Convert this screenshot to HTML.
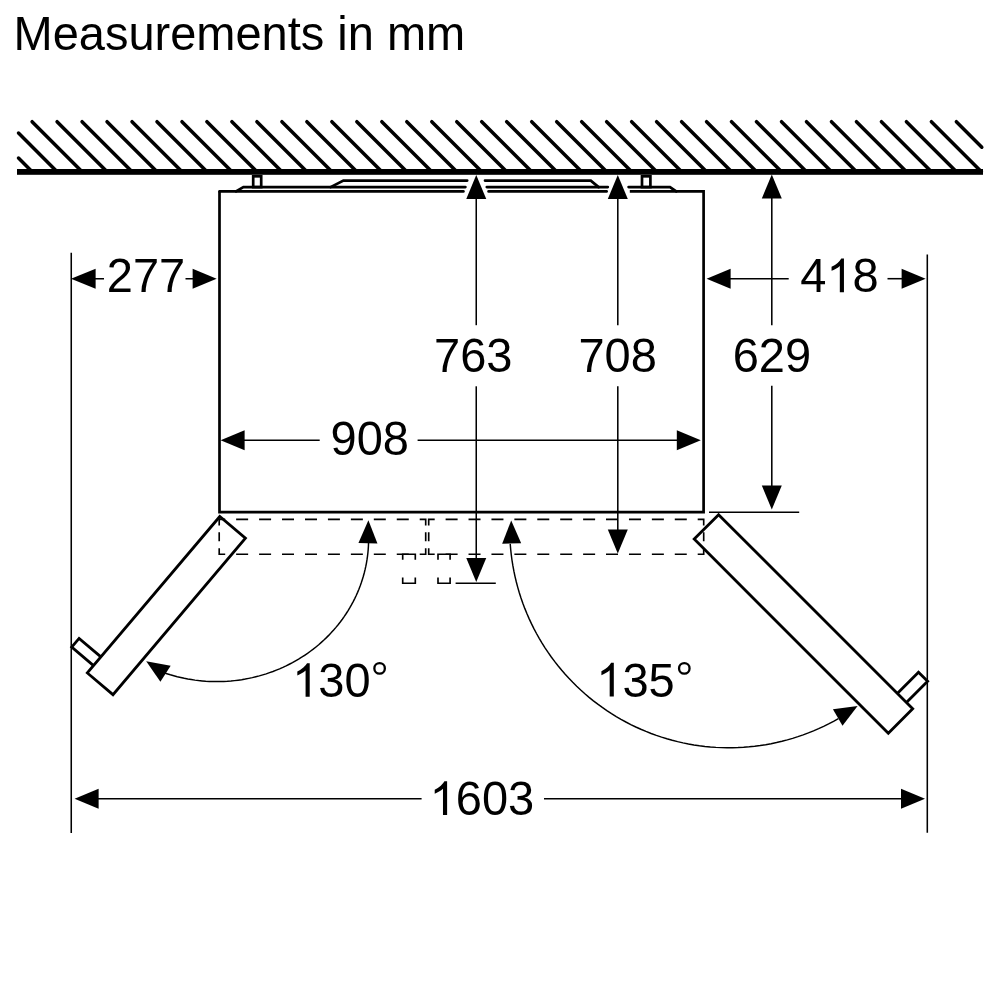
<!DOCTYPE html>
<html><head><meta charset="utf-8"><style>
html,body{margin:0;padding:0;background:#fff;}
svg{display:block;will-change:transform;font-family:"Liberation Sans",sans-serif;}
</style></head><body>
<svg width="1000" height="1000" viewBox="0 0 1000 1000">
<rect width="1000" height="1000" fill="#fff"/>
<text transform="translate(13.5,50.4) scale(1,1.04)" font-size="47">Measurements in mm</text>
<g stroke="#000" fill="none">
<line x1="18.5" y1="158.06" x2="32.14" y2="171.7" stroke-width="3.5" stroke-linecap="round"/>
<line x1="18.5" y1="133.08" x2="57.12" y2="171.7" stroke-width="3.5" stroke-linecap="round"/>
<line x1="32.1" y1="121.7" x2="82.1" y2="171.7" stroke-width="3.5" stroke-linecap="round"/>
<line x1="57.08" y1="121.7" x2="107.08" y2="171.7" stroke-width="3.5" stroke-linecap="round"/>
<line x1="82.06" y1="121.7" x2="132.06" y2="171.7" stroke-width="3.5" stroke-linecap="round"/>
<line x1="107.04" y1="121.7" x2="157.04" y2="171.7" stroke-width="3.5" stroke-linecap="round"/>
<line x1="132.02" y1="121.7" x2="182.02" y2="171.7" stroke-width="3.5" stroke-linecap="round"/>
<line x1="157" y1="121.7" x2="207" y2="171.7" stroke-width="3.5" stroke-linecap="round"/>
<line x1="181.98" y1="121.7" x2="231.98" y2="171.7" stroke-width="3.5" stroke-linecap="round"/>
<line x1="206.96" y1="121.7" x2="256.96" y2="171.7" stroke-width="3.5" stroke-linecap="round"/>
<line x1="231.94" y1="121.7" x2="281.94" y2="171.7" stroke-width="3.5" stroke-linecap="round"/>
<line x1="256.92" y1="121.7" x2="306.92" y2="171.7" stroke-width="3.5" stroke-linecap="round"/>
<line x1="281.9" y1="121.7" x2="331.9" y2="171.7" stroke-width="3.5" stroke-linecap="round"/>
<line x1="306.88" y1="121.7" x2="356.88" y2="171.7" stroke-width="3.5" stroke-linecap="round"/>
<line x1="331.86" y1="121.7" x2="381.86" y2="171.7" stroke-width="3.5" stroke-linecap="round"/>
<line x1="356.84" y1="121.7" x2="406.84" y2="171.7" stroke-width="3.5" stroke-linecap="round"/>
<line x1="381.82" y1="121.7" x2="431.82" y2="171.7" stroke-width="3.5" stroke-linecap="round"/>
<line x1="406.8" y1="121.7" x2="456.8" y2="171.7" stroke-width="3.5" stroke-linecap="round"/>
<line x1="431.78" y1="121.7" x2="481.78" y2="171.7" stroke-width="3.5" stroke-linecap="round"/>
<line x1="456.76" y1="121.7" x2="506.76" y2="171.7" stroke-width="3.5" stroke-linecap="round"/>
<line x1="481.74" y1="121.7" x2="531.74" y2="171.7" stroke-width="3.5" stroke-linecap="round"/>
<line x1="506.72" y1="121.7" x2="556.72" y2="171.7" stroke-width="3.5" stroke-linecap="round"/>
<line x1="531.7" y1="121.7" x2="581.7" y2="171.7" stroke-width="3.5" stroke-linecap="round"/>
<line x1="556.68" y1="121.7" x2="606.68" y2="171.7" stroke-width="3.5" stroke-linecap="round"/>
<line x1="581.66" y1="121.7" x2="631.66" y2="171.7" stroke-width="3.5" stroke-linecap="round"/>
<line x1="606.64" y1="121.7" x2="656.64" y2="171.7" stroke-width="3.5" stroke-linecap="round"/>
<line x1="631.62" y1="121.7" x2="681.62" y2="171.7" stroke-width="3.5" stroke-linecap="round"/>
<line x1="656.6" y1="121.7" x2="706.6" y2="171.7" stroke-width="3.5" stroke-linecap="round"/>
<line x1="681.58" y1="121.7" x2="731.58" y2="171.7" stroke-width="3.5" stroke-linecap="round"/>
<line x1="706.56" y1="121.7" x2="756.56" y2="171.7" stroke-width="3.5" stroke-linecap="round"/>
<line x1="731.54" y1="121.7" x2="781.54" y2="171.7" stroke-width="3.5" stroke-linecap="round"/>
<line x1="756.52" y1="121.7" x2="806.52" y2="171.7" stroke-width="3.5" stroke-linecap="round"/>
<line x1="781.5" y1="121.7" x2="831.5" y2="171.7" stroke-width="3.5" stroke-linecap="round"/>
<line x1="806.48" y1="121.7" x2="856.48" y2="171.7" stroke-width="3.5" stroke-linecap="round"/>
<line x1="831.46" y1="121.7" x2="881.46" y2="171.7" stroke-width="3.5" stroke-linecap="round"/>
<line x1="856.44" y1="121.7" x2="906.44" y2="171.7" stroke-width="3.5" stroke-linecap="round"/>
<line x1="881.42" y1="121.7" x2="931.42" y2="171.7" stroke-width="3.5" stroke-linecap="round"/>
<line x1="906.4" y1="121.7" x2="956.4" y2="171.7" stroke-width="3.5" stroke-linecap="round"/>
<line x1="931.38" y1="121.7" x2="981.38" y2="171.7" stroke-width="3.5" stroke-linecap="round"/>
<line x1="956.36" y1="121.7" x2="981.8" y2="147.14" stroke-width="3.5" stroke-linecap="round"/>
<rect x="17" y="169" width="966" height="5.8" fill="#000" stroke="none"/>
<rect x="253.2" y="176.3" width="8.0" height="10.8" fill="none" stroke-width="2.7"/>
<rect x="642.0" y="176.3" width="8.4" height="10.8" fill="none" stroke-width="2.7"/>
<polyline points="330.6,187.1 343.4,180.6 467.2,180.6" fill="none" stroke-width="2.7" stroke-linecap="round" stroke-linejoin="miter"/>
<polyline points="485,180.6 590.8,180.6 598.6,187.1" fill="none" stroke-width="2.7" stroke-linecap="round" stroke-linejoin="miter"/>
<polyline points="236,191.4 243.4,187.1 465.4,187.1" fill="none" stroke-width="2.7" stroke-linecap="round" stroke-linejoin="miter"/>
<line x1="486.8" y1="187.1" x2="607.8" y2="187.1" stroke-width="2.7" stroke-linecap="round"/>
<polyline points="628.6,187.1 670,187.1 676.2,191.4" fill="none" stroke-width="2.7" stroke-linecap="round" stroke-linejoin="miter"/>
<line x1="219.5" y1="191.4" x2="463.4" y2="191.4" stroke-width="2.7" stroke-linecap="round"/>
<line x1="488.6" y1="191.4" x2="606.6" y2="191.4" stroke-width="2.7" stroke-linecap="round"/>
<polyline points="629.8,191.4 703.6,191.4 703.6,512.2 219.5,512.2 219.5,191.4" fill="none" stroke-width="2.7" stroke-linecap="butt" stroke-linejoin="miter"/>
<line x1="71.25" y1="252.8" x2="71.25" y2="833" stroke-width="1.55" stroke-linecap="butt"/>
<line x1="927.3" y1="254.5" x2="927.3" y2="832.8" stroke-width="1.55" stroke-linecap="butt"/>
<polygon points="71,278.75 95.6,268.75 95.6,288.75" fill="#000" stroke="none"/>
<line x1="95" y1="278.75" x2="104" y2="278.75" stroke-width="1.55" stroke-linecap="butt"/>
<text transform="translate(106.8,292) scale(1,1.04)" font-size="47" fill="#000" stroke="none">277</text>
<line x1="185.5" y1="278.75" x2="194" y2="278.75" stroke-width="1.55" stroke-linecap="butt"/>
<polygon points="216.6,278.75 192.6,288.75 192.6,268.75" fill="#000" stroke="none"/>
<polygon points="706.6,278.7 730.6,268.7 730.6,288.7" fill="#000" stroke="none"/>
<line x1="730" y1="278.7" x2="788.7" y2="278.7" stroke-width="1.55" stroke-linecap="butt"/>
<text transform="translate(800.3,292.2) scale(1,1.04)" font-size="47" fill="#000" stroke="none">4</text>
<path transform="translate(826.44,292.2) scale(0.022949,-0.022949)" d="M763,0L583,0L583,1147Q518,1085 412.5,1023Q307,961 223,930L223,1104Q374,1175 487,1276Q600,1377 647,1466L763,1466Z" fill="#000" stroke="none"/>
<text transform="translate(852.58,292.2) scale(1,1.04)" font-size="47" fill="#000" stroke="none">8</text>
<line x1="887.5" y1="278.7" x2="902" y2="278.7" stroke-width="1.55" stroke-linecap="butt"/>
<polygon points="925.6,278.7 901.6,288.7 901.6,268.7" fill="#000" stroke="none"/>
<polygon points="476.25,175 486.25,199 466.25,199" fill="#000" stroke="none"/>
<line x1="476.25" y1="198" x2="476.25" y2="325.2" stroke-width="1.55" stroke-linecap="butt"/>
<text transform="translate(434.1,372.4) scale(1,1.04)" font-size="47" fill="#000" stroke="none">763</text>
<line x1="476.25" y1="386.3" x2="476.25" y2="559" stroke-width="1.55" stroke-linecap="butt"/>
<polygon points="476.25,582 466.25,558 486.25,558" fill="#000" stroke="none"/>
<line x1="455.6" y1="583.3" x2="495.8" y2="583.3" stroke-width="1.55" stroke-linecap="butt"/>
<polygon points="617.8,175 627.8,199 607.8,199" fill="#000" stroke="none"/>
<line x1="617.8" y1="198" x2="617.8" y2="325.2" stroke-width="1.55" stroke-linecap="butt"/>
<text transform="translate(578.4,372.4) scale(1,1.04)" font-size="47" fill="#000" stroke="none">708</text>
<line x1="617.8" y1="386.3" x2="617.8" y2="530" stroke-width="1.55" stroke-linecap="butt"/>
<polygon points="617.8,553.5 607.8,529.5 627.8,529.5" fill="#000" stroke="none"/>
<polygon points="771.8,174.6 781.8,198.6 761.8,198.6" fill="#000" stroke="none"/>
<line x1="771.8" y1="198" x2="771.8" y2="325.3" stroke-width="1.55" stroke-linecap="butt"/>
<text transform="translate(732.7,372.4) scale(1,1.04)" font-size="47" fill="#000" stroke="none">629</text>
<line x1="771.8" y1="385.8" x2="771.8" y2="487" stroke-width="1.55" stroke-linecap="butt"/>
<polygon points="771.8,509.5 761.8,485.5 781.8,485.5" fill="#000" stroke="none"/>
<line x1="709" y1="512.3" x2="799.2" y2="512.3" stroke-width="1.55" stroke-linecap="butt"/>
<polygon points="220.6,440.3 244.6,430.3 244.6,450.3" fill="#000" stroke="none"/>
<line x1="244" y1="440.3" x2="319.7" y2="440.3" stroke-width="1.55" stroke-linecap="butt"/>
<text transform="translate(330.5,455) scale(1,1.04)" font-size="47" fill="#000" stroke="none">908</text>
<line x1="417.6" y1="440.3" x2="677" y2="440.3" stroke-width="1.55" stroke-linecap="butt"/>
<polygon points="700.8,440.3 676.8,450.3 676.8,430.3" fill="#000" stroke="none"/>
<polygon points="74.6,798.8 98.6,788.8 98.6,808.8" fill="#000" stroke="none"/>
<line x1="98" y1="798.8" x2="421.6" y2="798.8" stroke-width="1.55" stroke-linecap="butt"/>
<path transform="translate(429.6,815) scale(0.022949,-0.022949)" d="M763,0L583,0L583,1147Q518,1085 412.5,1023Q307,961 223,930L223,1104Q374,1175 487,1276Q600,1377 647,1466L763,1466Z" fill="#000" stroke="none"/>
<text transform="translate(455.74,815) scale(1,1.04)" font-size="47" fill="#000" stroke="none">6</text>
<text transform="translate(481.88,815) scale(1,1.04)" font-size="47" fill="#000" stroke="none">0</text>
<text transform="translate(508.02,815) scale(1,1.04)" font-size="47" fill="#000" stroke="none">3</text>
<line x1="544" y1="798.8" x2="901" y2="798.8" stroke-width="1.55" stroke-linecap="butt"/>
<polygon points="925,798.8 901,808.8 901,788.8" fill="#000" stroke="none"/>
<path d="M236.14,519.4L248.14,519.4M259.09,519.4L271.09,519.4M282.03,519.4L294.03,519.4M304.98,519.4L316.98,519.4M327.92,519.4L339.92,519.4M350.87,519.4L362.87,519.4M373.81,519.4L385.81,519.4M396.76,519.4L408.76,519.4M425.7,532.3L425.7,541.3M408.76,554.2L396.76,554.2M385.81,554.2L373.81,554.2M362.87,554.2L350.87,554.2M339.92,554.2L327.92,554.2M316.98,554.2L304.98,554.2M294.03,554.2L282.03,554.2M271.09,554.2L259.09,554.2M248.14,554.2L236.14,554.2M219.2,541.3L219.2,532.3M219.2,525.4L219.2,519.4L225.2,519.4M419.7,519.4L425.7,519.4L425.7,525.4M425.7,548.2L425.7,554.2L419.7,554.2M225.2,554.2L219.2,554.2L219.2,548.2" fill="none" stroke-width="1.65" stroke-linejoin="miter"/>
<path d="M445.62,519.4L457.62,519.4M468.53,519.4L480.53,519.4M491.45,519.4L503.45,519.4M514.37,519.4L526.37,519.4M537.28,519.4L549.28,519.4M560.2,519.4L572.2,519.4M583.12,519.4L595.12,519.4M606.03,519.4L618.03,519.4M628.95,519.4L640.95,519.4M651.87,519.4L663.87,519.4M674.78,519.4L686.78,519.4M703.7,532.3L703.7,541.3M686.78,554.2L674.78,554.2M663.87,554.2L651.87,554.2M640.95,554.2L628.95,554.2M618.03,554.2L606.03,554.2M595.12,554.2L583.12,554.2M572.2,554.2L560.2,554.2M549.28,554.2L537.28,554.2M526.37,554.2L514.37,554.2M503.45,554.2L491.45,554.2M480.53,554.2L468.53,554.2M457.62,554.2L445.62,554.2M428.7,541.3L428.7,532.3M428.7,525.4L428.7,519.4L434.7,519.4M697.7,519.4L703.7,519.4L703.7,525.4M703.7,548.2L703.7,554.2L697.7,554.2M434.7,554.2L428.7,554.2L428.7,548.2" fill="none" stroke-width="1.65" stroke-linejoin="miter"/>
<path d="M402.7,559.8L402.7,554.2L415.3,554.2L415.3,559.8M402.7,577.4L402.7,583.2L415.3,583.2L415.3,577.4" fill="none" stroke-width="1.65" stroke-linejoin="miter"/>
<path d="M438,559.8L438,554.2L450.1,554.2L450.1,559.8M438,577.4L438,583.2L450.1,583.2L450.1,577.4" fill="none" stroke-width="1.65" stroke-linejoin="miter"/>
<polygon points="219.8,516.5 87.34,672.96 112.99,694.67 245.44,538.21" fill="none" stroke="#000" stroke-width="2.8" stroke-linejoin="miter"/>
<polyline points="100.91,656.93 79.08,638.46 71.72,647.16 93.55,665.64" fill="none" stroke-width="2.8" stroke-linecap="butt" stroke-linejoin="miter"/>
<polygon points="718.6,514.7 912.7,708.8 888.31,733.2 694.2,539.1" fill="none" stroke="#000" stroke-width="2.8" stroke-linejoin="miter"/>
<polyline points="897.29,693.39 918.5,672.17 927.62,681.29 906.41,702.51" fill="none" stroke-width="2.8" stroke-linecap="butt" stroke-linejoin="miter"/>
<polyline points="368.55,542.83 368.41,546.22 368.19,549.6 367.88,552.97 367.48,556.34 367,559.7 366.44,563.05 365.79,566.38 365.06,569.7 364.24,573 363.34,576.28 362.35,579.54 361.29,582.78 360.14,585.99 358.91,589.18 357.6,592.34 356.21,595.47 354.74,598.56 353.2,601.62 351.57,604.65 349.87,607.64 348.1,610.59 346.25,613.5 344.33,616.37 342.33,619.2 340.27,621.98 338.13,624.71 335.93,627.39 333.66,630.03 331.32,632.61 328.92,635.14 326.45,637.62 323.92,640.04 321.33,642.4 318.69,644.71 315.98,646.95 313.22,649.14 310.4,651.26 307.53,653.32 304.61,655.31 301.64,657.24 298.62,659.1 295.56,660.89 292.45,662.62 289.3,664.27 286.1,665.86 282.87,667.37 279.6,668.81 276.3,670.17 272.96,671.47 269.59,672.68 266.19,673.83 262.76,674.89 259.3,675.88 255.82,676.79 252.32,677.63 248.8,678.38 245.26,679.06 241.71,679.66 238.14,680.17 234.55,680.61 230.96,680.97 227.36,681.25 223.76,681.45 220.15,681.56 216.53,681.6 212.92,681.56 209.31,681.43 205.71,681.23 202.11,680.94 198.52,680.58 194.94,680.13 191.37,679.6 187.81,679 184.28,678.32 180.76,677.55 177.26,676.71 173.78,675.79 170.33,674.8 166.9,673.72 163.5,672.58" fill="none" stroke-width="1.47" stroke-linecap="butt" stroke-linejoin="miter"/>
<polygon points="368.4,520.3 377.44,543.49 358.44,543.11" fill="#000" stroke="none"/>
<polygon points="146.2,661.3 170.68,665.78 160.39,681.75" fill="#000" stroke="none"/>
<polyline points="838.37,718.57 833.53,721.28 828.62,723.86 823.65,726.31 818.61,728.64 813.52,730.84 808.38,732.91 803.18,734.86 797.94,736.66 792.65,738.34 787.33,739.88 781.96,741.29 776.56,742.56 771.13,743.69 765.68,744.69 760.2,745.54 754.7,746.26 749.18,746.84 743.65,747.28 738.12,747.58 732.57,747.74 727.02,747.76 721.48,747.64 715.94,747.38 710.41,746.98 704.89,746.44 699.38,745.76 693.9,744.94 688.44,743.98 683,742.89 677.59,741.65 672.22,740.28 666.88,738.78 661.58,737.14 656.32,735.37 651.11,733.47 645.96,731.43 640.85,729.26 635.8,726.97 630.81,724.55 625.88,722 621.02,719.33 616.23,716.54 611.51,713.63 606.86,710.6 602.3,707.45 597.81,704.19 593.41,700.82 589.09,697.33 584.87,693.74 580.73,690.04 576.69,686.24 572.75,682.34 568.91,678.34 565.17,674.25 561.54,670.06 558.01,665.78 554.59,661.41 551.29,656.96 548.09,652.42 545.02,647.81 542.06,643.12 539.22,638.35 536.5,633.52 533.9,628.62 531.43,623.65 529.09,618.62 526.87,613.54 524.78,608.4 522.83,603.21 521,597.98 519.31,592.69 517.75,587.37 516.33,582.01 515.04,576.62 513.89,571.19 512.88,565.74 512,560.26 511.27,554.76 510.67,549.25 510.21,543.72" fill="none" stroke-width="1.47" stroke-linecap="butt" stroke-linejoin="miter"/>
<polygon points="511.2,520.5 521.16,543.31 502.16,543.69" fill="#000" stroke="none"/>
<polygon points="857.6,706 842.49,725.78 832.94,709.35" fill="#000" stroke="none"/>
<path transform="translate(292.2,696.8) scale(0.022949,-0.022949)" d="M763,0L583,0L583,1147Q518,1085 412.5,1023Q307,961 223,930L223,1104Q374,1175 487,1276Q600,1377 647,1466L763,1466Z" fill="#000" stroke="none"/>
<text transform="translate(318.34,696.8) scale(1,1.04)" font-size="47" fill="#000" stroke="none">3</text>
<text transform="translate(344.48,696.8) scale(1,1.04)" font-size="47" fill="#000" stroke="none">0</text>
<circle cx="379.6" cy="668.4" r="5.25" fill="none" stroke-width="2.3"/>
<path transform="translate(596.3,696.5) scale(0.022949,-0.022949)" d="M763,0L583,0L583,1147Q518,1085 412.5,1023Q307,961 223,930L223,1104Q374,1175 487,1276Q600,1377 647,1466L763,1466Z" fill="#000" stroke="none"/>
<text transform="translate(622.44,696.5) scale(1,1.04)" font-size="47" fill="#000" stroke="none">3</text>
<text transform="translate(648.58,696.5) scale(1,1.04)" font-size="47" fill="#000" stroke="none">5</text>
<circle cx="684.3" cy="668.4" r="5.25" fill="none" stroke-width="2.3"/>
</g>
</svg>
</body></html>
